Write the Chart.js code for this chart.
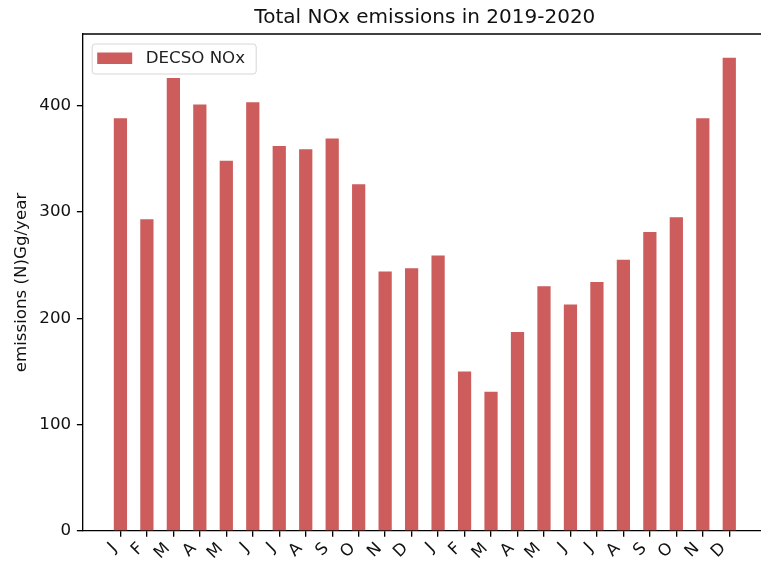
<!DOCTYPE html>
<html>
<head>
<meta charset="utf-8">
<script src="https://cdn.jsdelivr.net/npm/chart.js@4/dist/chart.umd.min.js"></script>
<style>
    html, body { margin: 0; padding: 0; background: #fff; overflow: hidden; }
    #wrap { width: 780px; height: 566px; }
</style>
</head>
<body>
<div id="wrap"><canvas id="chart"></canvas></div>
<script>
const MONTHS = ["J", "F", "M", "A", "M", "J", "J", "A", "S", "O", "N", "D",
                "J", "F", "M", "A", "M", "J", "J", "A", "S", "O", "N", "D"];
const NOX = [388, 293, 426, 401, 348, 403, 362, 359, 369, 326, 244, 247,
             259, 150, 131, 187, 230, 213, 234, 255, 281, 295, 388, 445];
const Y_TICKS = [0, 100, 200, 300, 400];
const TITLE = "Total NOx emissions in 2019-2020";

const BAR_COLOR = "#cd5c5c";
const FONT = "DejaVu Sans";
const LW = 1.33;

// title centred on the axes, top spine and legend inside the axes (matplotlib look)
const framePlugin = {
    id: "frame",
    afterDraw(chart) {
        const { ctx, chartArea: a } = chart;
        ctx.save();
        ctx.strokeStyle = "#000";
        ctx.lineWidth = LW;
        ctx.beginPath();
        ctx.moveTo(a.left, a.top);
        ctx.lineTo(a.right, a.top);
        ctx.stroke();

        ctx.fillStyle = "#111";
        ctx.font = `20px "${FONT}"`;
        ctx.textAlign = "center";
        ctx.textBaseline = "middle";
        ctx.fillText(TITLE, (a.left + a.right) / 2, 18);

        // legend
        const x = a.left + 9.5, y = a.top + 10;
        ctx.beginPath();
        ctx.roundRect(x, y, 164, 30, 3);
        ctx.fillStyle = "rgba(255,255,255,0.8)";
        ctx.fill();
        ctx.strokeStyle = "#d6d6d6";
        ctx.lineWidth = 1;
        ctx.stroke();
        ctx.fillStyle = BAR_COLOR;
        ctx.fillRect(x + 5, y + 8.5, 35, 11.5);
        ctx.fillStyle = "#222";
        ctx.font = `16.67px "${FONT}"`;
        ctx.textAlign = "left";
        ctx.fillText(chart.data.datasets[0].label, x + 53.5, y + 15);
        ctx.restore();
    }
};

new Chart(document.getElementById("chart"), {
    type: "bar",
    data: {
        datasets: [{
            label: "DECSO NOx",
            data: NOX.map((v, i) => ({ x: i, y: v })),
            backgroundColor: BAR_COLOR,
            barPercentage: 0.5,
            categoryPercentage: 1.0,
        }]
    },
    options: {
        responsive: true,
        maintainAspectRatio: false,
        animation: false,
        // the axes run past the right edge of the picture, as in the reference
        layout: { padding: { left: 0, right: 13, top: 34, bottom: 0 } },
        plugins: {
            legend: { display: false },
            tooltip: { enabled: false },
            title: { display: false },
        },
        scales: {
            x: {
                type: "linear",
                offset: false,
                min: -1.425,
                max: 24.425,
                afterBuildTicks: s => { s.ticks = MONTHS.map((_, i) => ({ value: i })); },
                afterFit: s => { s.height = 35; },
                ticks: {
                    autoSkip: false,
                    maxRotation: 45,
                    minRotation: 45,
                    padding: 2,
                    labelOffset: -6,
                    color: "#111",
                    font: { family: FONT, size: 16.67 },
                    callback: v => MONTHS[v],
                },
                grid: { display: true, offset: false, drawOnChartArea: false, drawTicks: true, tickLength: 5.83, color: "#000", lineWidth: LW },
                border: { display: true, color: "#000", width: LW },
            },
            y: {
                min: 0,
                max: 467.25,
                afterBuildTicks: s => { s.ticks = Y_TICKS.map(v => ({ value: v })); },
                afterFit: s => { s.width = 82.7; },
                ticks: {
                    padding: 5.8,
                    color: "#111",
                    font: { family: FONT, size: 16.67 },
                },
                title: {
                    display: true,
                    text: "emissions (N)Gg/year",
                    color: "#111",
                    font: { family: FONT, size: 16.67 },
                    padding: { top: 12, bottom: 0 },
                },
                grid: { display: true, drawOnChartArea: false, drawTicks: true, tickLength: 5.83, color: "#000", lineWidth: LW },
                border: { display: true, color: "#000", width: LW },
            },
        },
    },
    plugins: [framePlugin],
});
</script>
</body>
</html>
